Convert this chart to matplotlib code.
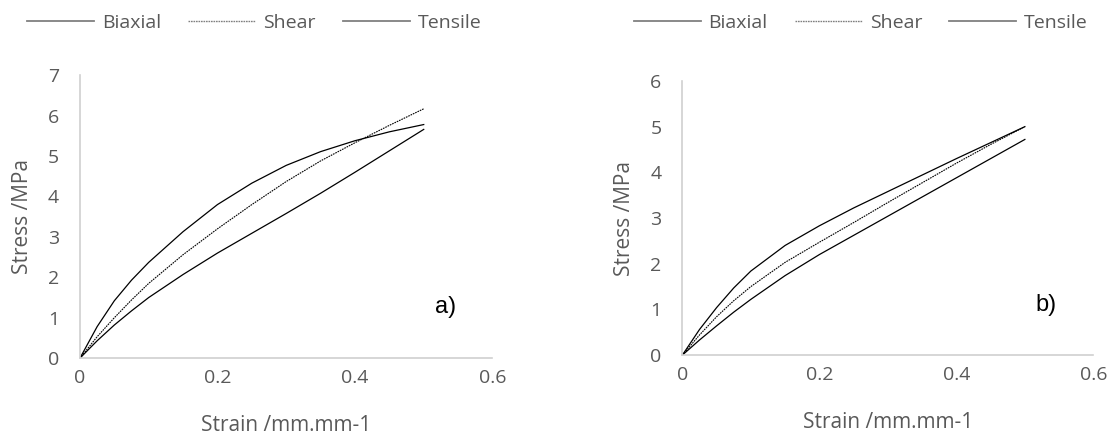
import matplotlib.pyplot as plt
from matplotlib.lines import Line2D

strain = [0, 0.025, 0.05, 0.075, 0.1, 0.15, 0.2, 0.25, 0.3, 0.35, 0.4, 0.45, 0.5]

# panel a)
biaxial_a = [0, 0.78, 1.42, 1.93, 2.37, 3.13, 3.8, 4.33, 4.77, 5.11, 5.38, 5.6, 5.78]
shear_a = [0, 0.53, 1.0, 1.44, 1.85, 2.56, 3.2, 3.8, 4.37, 4.88, 5.33, 5.76, 6.17]
tensile_a = [0, 0.43, 0.82, 1.17, 1.5, 2.07, 2.6, 3.09, 3.58, 4.08, 4.6, 5.13, 5.66]

# panel b)
biaxial_b = [0, 0.56, 1.04, 1.47, 1.84, 2.4, 2.83, 3.22, 3.58, 3.94, 4.3, 4.65, 5.0]
shear_b = [0, 0.44, 0.84, 1.19, 1.5, 2.03, 2.47, 2.9, 3.34, 3.77, 4.2, 4.61, 5.0]
tensile_b = [0, 0.33, 0.64, 0.94, 1.22, 1.74, 2.2, 2.62, 3.04, 3.46, 3.88, 4.3, 4.72]

series_names = ["Biaxial", "Shear", "Tensile"]
xtick_labels = ["0", "0.2", "0.4", "0.6"]

plt.rcParams['font.family'] = ['Open Sans', 'DejaVu Sans']
TXT = "#595959"

fig = plt.figure(figsize=(11.15, 4.4), dpi=100)

panels = [
    (fig.add_axes([0.0717, 0.186, 0.370, 0.643]), biaxial_a, shear_a, tensile_a, 7, "a)", 0.228),
    (fig.add_axes([0.612, 0.193, 0.3686, 0.623]), biaxial_b, shear_b, tensile_b, 6, "b)", 0.772),
]

for ax, bi, sh, te, ymax, tag, legx in panels:
    ax.plot(strain, bi, color="black", lw=0.9)
    ax.plot(strain, sh, color="black", lw=0.8, ls=(0, (1.5, 0.8)))
    ax.plot(strain, te, color="black", lw=0.9)
    ax.set_xlim(0, 0.6)
    ax.set_ylim(0, ymax)
    ax.set_xticks([0, 0.2, 0.4, 0.6])
    ax.set_xticklabels(xtick_labels)
    ax.set_yticks(range(ymax + 1))
    for s in ("top", "right"):
        ax.spines[s].set_visible(False)
    for s in ("left", "bottom"):
        ax.spines[s].set_color("#d0d0d0")
        ax.spines[s].set_linewidth(1.2)
    ax.tick_params(length=0, labelsize=14, labelcolor=TXT)
    ax.tick_params(axis="y", pad=15)
    ax.tick_params(axis="x", pad=8)
    ax.set_xlabel("Strain /mm.mm-1", fontsize=15, color=TXT, labelpad=20)
    ax.set_ylabel("Stress /MPa", fontsize=15, color=TXT, labelpad=11)
    ax.text(0.86, 0.16, tag, transform=ax.transAxes, fontsize=17,
            family=["Liberation Sans", "DejaVu Sans"], color="black")

    handles = [
        Line2D([], [], color="#808080", lw=1.3),
        Line2D([], [], color="#808080", lw=1.0, ls=(0, (1.2, 0.6))),
        Line2D([], [], color="#808080", lw=1.3),
    ]
    ax.legend(handles, series_names, ncol=3, frameon=False,
              loc="center", bbox_to_anchor=(legx, 0.948),
              bbox_transform=fig.transFigure, fontsize=14, labelcolor=TXT,
              handlelength=3.45, handletextpad=0.4, columnspacing=1.4,
              borderpad=0, borderaxespad=0)

fig.savefig("out.png", dpi=100)
